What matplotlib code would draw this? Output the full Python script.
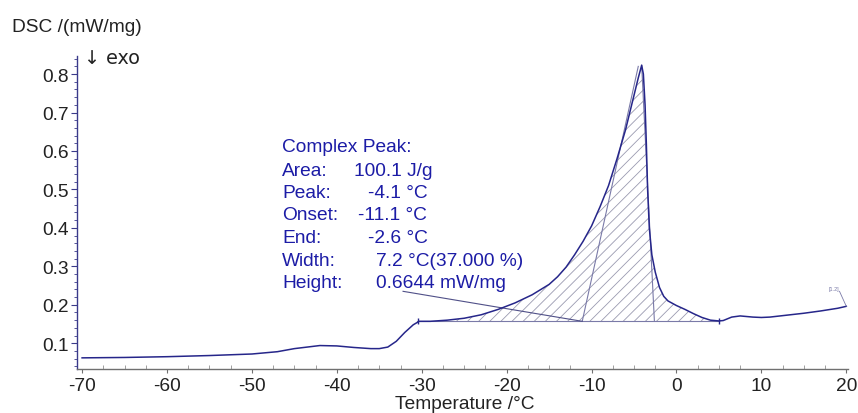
import matplotlib
matplotlib.use("Agg")
import matplotlib.pyplot as plt
import numpy as np
from matplotlib.ticker import MultipleLocator

plt.rcParams['font.family'] = ['Liberation Sans', 'DejaVu Sans']
plt.rcParams['hatch.linewidth'] = 0.6

# ---- data ----
temp = [-70, -65, -60, -55, -50, -47, -45, -42, -40, -38, -36, -35, -34, -33,
        -32, -31, -30.3, -29, -27, -25, -23, -21, -19, -17, -15, -14, -13, -12,
        -11, -10, -9, -8, -7, -6, -5.5, -5, -4.5, -4.1, -3.9, -3.7, -3.55,
        -3.4, -3.2, -2.9, -2.5, -2, -1.5, -1, 0,
        1, 2, 3, 4, 5, 5.5, 6.5, 7.5, 9, 10, 11, 13, 15, 17, 19, 20]
dsc = [0.062, 0.063, 0.065, 0.068, 0.072, 0.078, 0.086, 0.094, 0.093, 0.089,
       0.086, 0.086, 0.090, 0.105, 0.128, 0.148, 0.157, 0.157, 0.160, 0.165,
       0.174, 0.188, 0.205, 0.226, 0.253, 0.273, 0.298, 0.33,
       0.365, 0.405, 0.455, 0.51, 0.58, 0.655, 0.70, 0.745, 0.79, 0.823,
       0.80, 0.72, 0.62, 0.50, 0.40, 0.33, 0.285, 0.245, 0.222, 0.21, 0.198,
       0.188, 0.177, 0.167, 0.160, 0.158, 0.159, 0.168, 0.171, 0.168, 0.167,
       0.168, 0.173, 0.178, 0.184, 0.191, 0.196]
baseline_value = 0.157
baseline_range = [-30.5, 5.0]
onset, peak_t, peak_v, end_t = -11.1, -4.1, 0.823, -2.6
lead_top = [-4.5, 0.82]
leader_start = [-32.2, 0.235]

result_labels = ["Area:", "Peak:", "Onset:", "End:", "Width:", "Height:"]
result_values = ["100.1 J/g", "-4.1 °C", "-11.1 °C", "-2.6 °C",
                 "7.2 °C(37.000 %)", "0.6644 mW/mg"]
result_value_x = [354, 368, 358, 368, 376, 376]   # pixel x of values

xticks = [-70, -60, -50, -40, -30, -20, -10, 0, 10, 20]
yticks = [0.1, 0.2, 0.3, 0.4, 0.5, 0.6, 0.7, 0.8]

W, H = 858, 414
fig = plt.figure(figsize=(W / 100, H / 100), dpi=100)
ax = fig.add_axes([77 / W, 1 - 370 / H, (848 - 77) / W, (370 - 57) / H])

curve_c = '#26268a'
thin_c = '#7a7aa8'
text_c = '#1c1ca6'
FS = 13.8

t = np.array(temp)
v = np.array(dsc)

# hatched peak area
ti = np.linspace(-28.5, 5.0, 800)
vi = np.interp(ti, t, v)
ax.fill_between(ti, baseline_value, vi, where=vi >= baseline_value,
                facecolor='none', edgecolor='#9a9ab0', hatch='///',
                linewidth=0, interpolate=True)

ax.plot(baseline_range, [baseline_value] * 2, color=thin_c, lw=0.8)
ax.plot([onset, lead_top[0]], [baseline_value, lead_top[1]], color=thin_c, lw=0.8)
ax.plot([end_t, peak_t], [baseline_value, peak_v], color=thin_c, lw=0.8)
ax.plot([leader_start[0], onset], [leader_start[1], baseline_value],
        color='#505088', lw=0.8)

ax.plot(t, v, color=curve_c, lw=1.1)
ax.plot([baseline_range[1]], [baseline_value], marker='|', color=curve_c, ms=5)
ax.plot([-30.4], [0.157], marker='|', color=curve_c, ms=4)

# small [1.2] label
ax.text(18.5, 0.243, "[1.2]", fontsize=4, color=thin_c, ha='center', va='center')
ax.plot([19.2, 20.0], [0.235, 0.196], color=thin_c, lw=0.6)

ax.set_xlim(-70.6, 20.2)
ax.set_ylim(0.033, 0.847)
ax.set_xticks(xticks)
ax.set_yticks(yticks)
ax.set_xticklabels([str(x) for x in xticks])
ax.set_yticklabels([f"{y:.1f}" for y in yticks])
ax.xaxis.set_minor_locator(MultipleLocator(2.5))
ax.yaxis.set_minor_locator(MultipleLocator(0.02))

for s in ['top', 'right']:
    ax.spines[s].set_visible(False)
ax.spines['left'].set_color('#3a3a8a')
ax.spines['bottom'].set_color('#707070')
ax.spines['left'].set_linewidth(1.0)
ax.spines['bottom'].set_linewidth(1.0)
ax.tick_params(axis='y', which='major', length=4, color='#3a3a8a',
               labelsize=FS, labelcolor='#222222', pad=2)
ax.tick_params(axis='y', which='minor', length=2, color='#3a3a8a')
ax.tick_params(axis='x', which='major', length=3, color='#707070',
               labelsize=FS, labelcolor='#222222', pad=3)
ax.tick_params(axis='x', which='minor', direction='in', length=3, color='#909090')

fig.text(465 / W, 1 - 405 / H, "Temperature /°C", fontsize=FS,
         ha='center', va='center', color='#222222')
fig.text(12 / W, 1 - 27 / H, "DSC /(mW/mg)", fontsize=FS,
         ha='left', va='center', color='#222222')
fig.text(84 / W, 1 - 58 / H, "↓ exo", fontsize=FS,
         ha='left', va='center', color='#222222', family=['DejaVu Sans'])

# results box
fig.text(282 / W, 1 - 148 / H, "Complex Peak:", fontsize=FS,
         ha='left', va='center', color=text_c)
for i, (lab, val, vx) in enumerate(zip(result_labels, result_values, result_value_x)):
    y = 171 + i * 22.5
    fig.text(282 / W, 1 - y / H, lab, fontsize=FS, ha='left', va='center', color=text_c)
    fig.text(vx / W, 1 - y / H, val, fontsize=FS, ha='left', va='center', color=text_c)

fig.savefig("out.png", dpi=100, facecolor='white')
